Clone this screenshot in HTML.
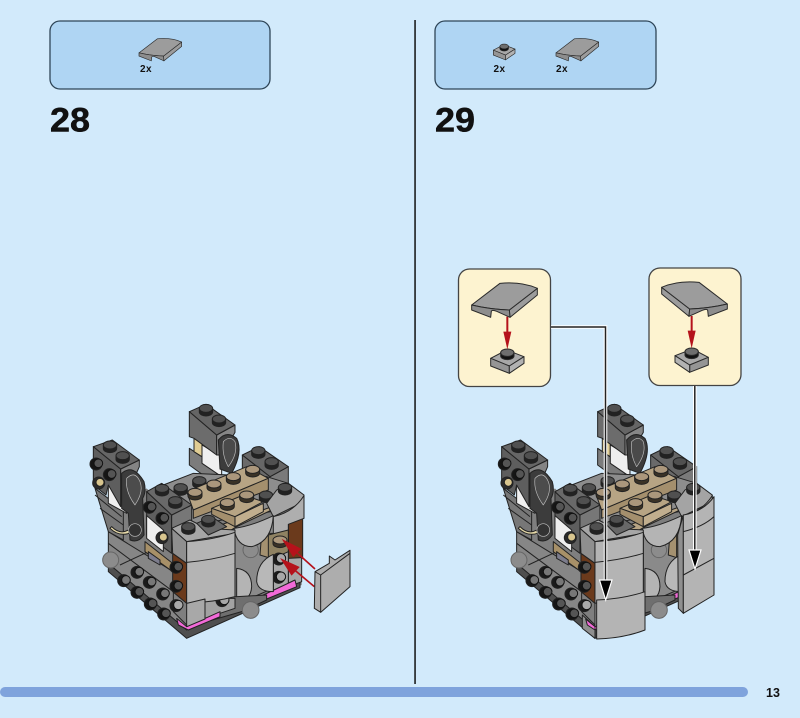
<!DOCTYPE html>
<html><head><meta charset="utf-8"><style>
html,body{margin:0;padding:0;background:#d2eafb;width:800px;height:718px;overflow:hidden}
svg{display:block}
text{font-family:"Liberation Sans",sans-serif;font-weight:bold;fill:#111}
</style></head><body>
<svg width="800" height="718" viewBox="0 0 800 718" xmlns="http://www.w3.org/2000/svg">
<defs>
<g id="st"><path d="M-20 -4V6A20 12 0 0 0 20 6V-4Z" fill="#222" stroke="#222" stroke-width="3"/><ellipse cx="0" cy="-5" rx="20" ry="12" fill="#505050" stroke="#222" stroke-width="3"/></g>
<g id="stt"><path d="M-21 -4V6A21 12 0 0 0 21 6V-4Z" fill="#3a3226" stroke="#222" stroke-width="3"/><ellipse cx="0" cy="-5" rx="21" ry="12" fill="#ab977c" stroke="#222" stroke-width="3"/></g>
<g id="sd"><circle cx="-4" cy="2" r="18" fill="#151515"/><circle cx="3" cy="0" r="13" fill="#555" stroke="#111" stroke-width="3"/></g>
<g id="sm"><circle cx="-4" cy="2" r="18" fill="#1a1a1a"/><circle cx="3" cy="0" r="13" fill="#777" stroke="#111" stroke-width="3"/></g>
<g id="sl"><circle cx="-4" cy="2" r="18" fill="#1c1c1c"/><circle cx="3" cy="0" r="14" fill="#a8a8a8" stroke="#111" stroke-width="3"/></g>
<g id="slope" stroke="#2a2a2a" stroke-width="3" stroke-linejoin="round">
<path d="M178 150L262 85V105L180 172Z" fill="#9c9c9c"/>
<path d="M65 135L150 70Q215 64 262 85L178 150Q120 148 65 135Z" fill="#9c9c9c"/>
<path d="M65 135Q120 148 178 150L180 172L140 154Q126 148 124 154L122 172L65 150Z" fill="#8d8d8d"/>
</g>
<g id="plate" stroke="#2a2a2a" stroke-width="3" stroke-linejoin="round">
<path d="M122 295L170 270L222 290L178 318Z" fill="#a8a8a8"/>
<path d="M122 295L178 318V340L122 318Z" fill="#959595"/>
<path d="M178 318L222 290V310L178 340Z" fill="#b2b2b2"/>
<path d="M152 278V288A20 11 0 0 0 192 288V278Z" fill="#111"/>
<ellipse cx="172" cy="278" rx="20" ry="11" fill="#6e6e6e"/>
</g>
<g id="model" stroke="#222" stroke-width="3" stroke-linejoin="round">
<!-- backing -->
<path d="M45 280L85 400V520L320 730V400L200 280L125 340Z" fill="#7f7f7f" stroke="none"/>
<path d="M320 400L330 290L560 245L625 265L665 300V570L320 730Z" fill="#7d7d7d" stroke="none"/>
<!-- base plate -->
<path d="M85 505L320 700L660 560V578L320 730L85 530Z" fill="#4f4f4f"/>
<!-- left wall -->
<path d="M85 410L280 530V650L320 690V705L85 505Z" fill="#868686"/>
<path d="M85 445L280 590M120 510L205 470" fill="none"/>
<use href="#sm" x="135" y="555"/><use href="#sm" x="175" y="530"/><use href="#sm" x="212" y="560"/><use href="#sm" x="252" y="595"/><use href="#sl" x="292" y="630"/><use href="#sd" x="175" y="590"/><use href="#sd" x="215" y="625"/><use href="#sd" x="255" y="655"/>
<circle cx="92" cy="495" r="24" fill="#8c8c8c" stroke="#666"/>
<!-- back ear -->
<path d="M328 160L410 215V270L328 210Z" fill="#7c7c7c"/>
<path d="M342 130H366V185L342 170Z" fill="#e0cd94"/>
<path d="M366 150L425 185V245L366 205Z" fill="#efefef"/>
<path d="M328 50L410 120V180L342 130L328 125Z" fill="#6c6c6c"/>
<path d="M410 120L465 90V112L425 180H410Z" fill="#868686"/>
<path d="M328 50L378 28L465 90L410 120Z" fill="#656565"/>
<use href="#st" x="378" y="45"/><use href="#st" x="417" y="77"/>
<path d="M415 135Q440 105 470 130Q490 170 455 235L420 222Z" fill="#3c3c3c"/>
<path d="M430 140Q450 120 465 140Q475 175 445 215Q425 180 430 140Z" fill="#4a4a4a" stroke="#bbb" stroke-width="2"/>
<!-- back right brick -->
<path d="M570 245L625 215V280L570 300Z" fill="#7a7a7a"/>
<path d="M487 180L570 245V290H487Z" fill="#6a6a6a"/>
<path d="M487 180L538 155L625 215L570 245Z" fill="#666"/>
<use href="#st" x="535" y="172"/><use href="#st" x="575" y="205"/>
<!-- left ear -->
<path d="M45 280L130 345V435L85 410Z" fill="#777"/>
<path d="M45 300L125 365M60 340L130 390" fill="none"/>
<path d="M85 268L140 305V355L85 325Z" fill="#f0f0f0"/>
<path d="M40 155L122 222V335L85 270L78 300L40 270Z" fill="#5e5e5e"/>
<path d="M122 222L178 195V215L125 335Z" fill="#848484"/>
<path d="M40 155L97 135L178 195L122 222Z" fill="#666"/>
<use href="#st" x="90" y="155"/><use href="#st" x="128" y="187"/>
<use href="#sd" x="52" y="205"/><use href="#sd" x="92" y="237"/>
<circle cx="56" cy="264" r="18" fill="#2a2a2a"/><circle cx="60" cy="262" r="12" fill="#d8c58e"/>
<path d="M95 395Q120 420 145 405L148 415Q115 425 90 400Z" fill="#e6d9a8"/>
<path d="M125 235Q160 205 192 260Q200 290 188 310L192 420Q175 445 150 435L145 355L125 340Z" fill="#3c3c3c"/>
<path d="M140 250Q165 225 180 260Q192 290 165 330Q135 290 140 250Z" fill="#4c4c4c" stroke="#bbb" stroke-width="2"/>
<circle cx="165" cy="405" r="19" fill="#333" stroke="#bbb" stroke-width="2"/>
<!-- centre plate top -->
<path d="M250 270L340 235L560 245L625 265L660 335L280 400Z" fill="#8d8d8d"/>
<use href="#st" x="302" y="283"/><use href="#st" x="358" y="262"/>
<!-- front left dark brick -->
<path d="M200 290L275 360V475L200 420Z" fill="#5e5e5e"/>
<path d="M275 360L335 330V395L275 420Z" fill="#777"/>
<path d="M200 290L245 265L335 330L275 360Z" fill="#696969"/>
<use href="#st" x="246" y="285"/><use href="#st" x="286" y="322"/>
<use href="#sd" x="212" y="335"/><use href="#sd" x="250" y="368"/>
<path d="M200 362L250 405V470L200 430Z" fill="#efefef"/>
<circle cx="246" cy="428" r="18" fill="#2a2a2a"/><circle cx="250" cy="426" r="12" fill="#d8c58e"/>
<path d="M195 440L278 505V530L195 470Z" fill="#a79068"/>
<path d="M205 470L240 495V510L205 490Z" fill="#7c7c8c"/>
<!-- tan -->
<path d="M320 290L500 215L565 250L340 345Z" fill="#b7a484"/>
<path d="M340 345L565 250V285L340 370Z" fill="#a48f6d"/>
<use href="#stt" x="345" y="297"/><use href="#stt" x="402" y="272"/><use href="#stt" x="460" y="250"/><use href="#stt" x="518" y="228"/>
<path d="M380 405L612 322L575 345L470 395L420 425Z" fill="#b7a484"/>
<path d="M395 340L490 300L550 320L465 365Z" fill="#b7a484"/>
<path d="M395 340L465 365V395L395 358Z" fill="#a48f6d"/>
<path d="M465 365L550 325V350L465 395Z" fill="#c1ae8e"/>
<use href="#stt" x="442" y="328"/><use href="#stt" x="500" y="305"/>
<use href="#st" x="558" y="305"/>
<!-- top right piece -->
<path d="M590 285L625 265L672 300L668 322L580 365L560 325Z" fill="#a4a4a4"/>
<use href="#st" x="615" y="282"/>
<!-- centre recess -->
<path d="M465 415L625 365V560L465 630Z" fill="#8a8a8a"/>
<path d="M545 415H620V505L540 480Z" fill="#a49170"/>
<circle cx="512" cy="465" r="23" fill="#8c8c8c" stroke="#666"/>
<path d="M462 400Q510 395 580 362Q575 440 515 455Q470 455 462 400Z" fill="#b4b4b4"/>
<!-- right column -->
<path d="M625 385L668 365V490L625 495Z" fill="#6b3a1c"/>
<path d="M625 490L665 488V560L625 575Z" fill="#a6a6a6"/>
<path d="M580 365Q640 352 672 302V370L625 388V410L580 420Z" fill="#aeaeae"/>
<path d="M565 420L625 405V495L565 510Z" fill="#8f8262"/>
<use href="#stt" x="600" y="440"/>
<path d="M580 490L625 470V570L580 600Z" fill="#a8a8a8"/>
<use href="#sl" x="600" y="490"/><use href="#sl" x="600" y="545"/>
<path d="M550 600L645 555L650 575L560 612Z" fill="#f26ad8"/>
<path d="M470 520Q515 525 515 575Q512 620 470 612Z" fill="#b4b4b4"/>
<path d="M580 478Q530 500 530 560Q535 590 580 590Z" fill="#b8b8b8"/>
<!-- lower centre -->
<path d="M380 610L560 600V615L485 650L380 680Z" fill="#6f6f6f"/>
<path d="M375 610H465V640L420 655L375 670Z" fill="#a2a2a2"/>
<use href="#sl" x="430" y="615"/>
<circle cx="512" cy="645" r="25" fill="#8c8c8c" stroke="#666"/>
<path d="M290 670L320 695L420 650V665L325 705L295 690Z" fill="#f26ad8"/>
<!-- brown column -->
<path d="M278 475L320 505V625L278 590Z" fill="#6b3a1c"/>
<use href="#sd" x="292" y="515"/><use href="#sd" x="292" y="572"/>
<!-- front slope -->
<path d="M275 400L330 375L380 400L465 405V415L320 440Z" fill="#a6a6a6"/>
<path d="M350 385L395 365L440 395L385 420Z" fill="#686868"/>
<use href="#st" x="325" y="400"/><use href="#st" x="385" y="378"/>
<path d="M275 400L320 440V505L278 475Z" fill="#8f8f8f"/>
<path d="M320 440Q400 435 465 412V605Q400 622 320 625Z" fill="#b4b4b4"/>
<path d="M320 502Q400 495 465 475" fill="none"/>
<path d="M320 625V695L375 672V612Z" fill="#a8a8a8"/>
</g>
</defs>

<rect width="800" height="718" fill="#d2eafb"/>
<rect x="50" y="21" width="220" height="68" rx="10" fill="#afd5f3" stroke="#2f4658" stroke-width="1.3"/>
<rect x="435" y="21" width="221" height="68" rx="10" fill="#afd5f3" stroke="#2f4658" stroke-width="1.3"/>
<use href="#slope" transform="translate(124.9,23.6) scale(.2167)"/>
<use href="#plate" transform="translate(466.9,-13.8) scale(.2167)"/>
<use href="#slope" transform="translate(541.9,23.6) scale(.2167)"/>
<text x="140" y="72" font-size="10" letter-spacing=".5">2x</text>
<text x="493.5" y="72" font-size="10" letter-spacing=".5">2x</text>
<text x="556" y="72" font-size="10" letter-spacing=".5">2x</text>
<text x="50" y="131.5" font-size="34" textLength="40" lengthAdjust="spacingAndGlyphs" stroke="#111" stroke-width=".5">28</text>
<text x="435" y="131.5" font-size="34" textLength="40" lengthAdjust="spacingAndGlyphs" stroke="#111" stroke-width=".5">29</text>
<rect x="414.3" y="20" width="1.5" height="664" fill="#111"/>
<rect x="0" y="687" width="748" height="10" rx="5" fill="#7fa3dc"/>
<text x="766" y="697" font-size="12.5">13</text>

<!-- left model -->
<g transform="translate(80,395) scale(.33333)">
<use href="#model"/>
<g stroke="#b5121b" stroke-width="5" fill="#b5121b">
<path d="M705 522L625 450" fill="none"/><path d="M612 438L660 462L640 482Z"/>
<path d="M703 575L620 505" fill="none"/><path d="M607 495L655 517L635 538Z"/>
</g>
<g stroke="#222" stroke-width="3" stroke-linejoin="round">
<path d="M705 530L748 505V483L765 495L810 466V575L722 652L703 640Z" fill="#adadad"/>
<path d="M705 530L722 540L810 475" fill="none"/>
<path d="M722 540V652" fill="none"/>
</g>
</g>

<!-- right model -->
<g transform="translate(488.3,395) scale(.33333)"><use href="#model"/></g>
<g transform="translate(490,395) scale(.33333)" stroke="#222" stroke-width="3" stroke-linejoin="round">
<path d="M277 660L315 695V730L277 700Z" fill="#8f8f8f"/>
<path d="M287 672L315 695V705L292 690Z" fill="#f26ad8"/>
<path d="M320 615V732Q400 730 465 705V590Q400 612 320 615Z" fill="#b4b4b4"/>
<path d="M563 420L580 360V655L565 640Z" fill="#8f8f8f"/>
<path d="M580 360Q640 350 672 305V600L580 655Z" fill="#b4b4b4"/>
<path d="M580 540L672 490M580 410Q640 395 672 365" fill="none"/>
</g>

<!-- callouts -->
<rect x="458.5" y="269" width="92" height="117.5" rx="11" fill="#fdf3d0" stroke="#444" stroke-width="1.3"/>
<rect x="649" y="268" width="92" height="117.5" rx="11" fill="#fdf3d0" stroke="#444" stroke-width="1.3"/>
<g transform="translate(450,260) scale(.33333)">
<use href="#plate"/>
<path d="M172 170V225" stroke="#b5121b" stroke-width="6"/><path d="M160 215H184L172 268Z" fill="#b5121b"/>
<use href="#slope"/>
<g transform="translate(897,-3) scale(-1,1)"><use href="#plate"/></g>
<path d="M725 168V222" stroke="#b5121b" stroke-width="6"/><path d="M713 212H737L725 265Z" fill="#b5121b"/>
<g transform="translate(897,-3) scale(-1,1)"><use href="#slope"/></g>
</g>

<!-- connectors -->
<path d="M551 327H605.5V585M694.8 386V555" fill="none" stroke="#fff" stroke-width="3.6"/>
<path d="M551 327H605.5V585M694.8 386V555" fill="none" stroke="#222" stroke-width="1.5"/>
<path d="M599.5 580H612L605.7 600Z" fill="#000" stroke="#fff" stroke-width="1.2"/>
<path d="M689 550H701L695 569Z" fill="#000" stroke="#fff" stroke-width="1.2"/>
</svg>
</body></html>
